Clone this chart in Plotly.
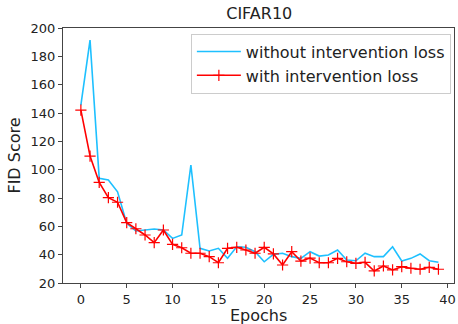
import plotly.graph_objects as go

epochs = list(range(40))
without_loss = [145.6, 191.5, 93.9, 92.7, 84.4, 62.1, 56.7, 57.4, 58.1, 57.4,
                51.5, 53.9, 103.3, 44.5, 42.6, 44.5, 37.4, 45.6, 45.2, 42.1,
                35.0, 40.2, 41.0, 38.6, 37.4, 42.1, 39.0, 39.8, 43.3, 36.2,
                35.7, 41.0, 38.6, 38.6, 45.6, 35.5, 37.4, 40.5, 35.7, 34.6]
with_loss = [142.0, 109.6, 91.0, 80.2, 77.0, 62.6, 58.3, 53.9, 48.5, 57.4,
             47.3, 44.9, 41.0, 41.0, 38.6, 34.3, 44.5, 45.2, 43.3, 41.0,
             45.2, 40.5, 32.7, 42.1, 35.5, 37.6, 34.3, 34.3, 37.4, 35.0,
             33.9, 34.6, 28.5, 32.0, 29.2, 31.5, 30.4, 29.7, 31.1, 29.7]
x_ticks = list(range(0, 41, 5))
y_ticks = list(range(20, 201, 20))

font = "DejaVu Sans"
fig = go.Figure()
fig.add_trace(go.Scatter(x=epochs, y=without_loss, mode="lines",
                         name="without intervention loss",
                         line=dict(color="#1ec0ff", width=1.6)))
fig.add_trace(go.Scatter(x=epochs, y=with_loss, mode="lines+markers",
                         name="with intervention loss",
                         line=dict(color="#ff0000", width=1.6),
                         marker=dict(symbol="cross-thin", size=8,
                                     line=dict(color="#ff0000", width=1.2))))

axis_common = dict(showgrid=False, zeroline=False, showline=True, mirror=True,
                   linecolor="#444", linewidth=1, ticks="outside", ticklen=4,
                   tickcolor="#444", automargin=False,
                   tickfont=dict(family=font, size=13, color="#222"))
fig.update_layout(
    width=458, height=324,
    margin=dict(l=63, r=4, t=27.5, b=41),
    paper_bgcolor="white", plot_bgcolor="white",
    title=dict(text="CIFAR10", x=0.566, xanchor="center", y=0.958, yanchor="middle",
               font=dict(family=font, size=16, color="#222")),
    xaxis=dict(range=[-1.95, 40.7], tickvals=x_ticks, **axis_common),
    yaxis=dict(range=[20, 200], tickvals=y_ticks,
               title=dict(text="FID Score", standoff=5, font=dict(family=font, size=16, color="#222")),
               **axis_common),
    legend=dict(x=0.992, y=0.978, xanchor="right", yanchor="top",
                bgcolor="rgba(255,255,255,0.8)", bordercolor="#cccccc", borderwidth=1,
                font=dict(family=font, size=16, color="#222"), itemwidth=44,
                tracegroupgap=2),
    showlegend=True,
    annotations=[dict(text="Epochs", xref="paper", yref="paper", x=0.5, y=-0.128,
                      xanchor="center", yanchor="middle", showarrow=False,
                      font=dict(family=font, size=16, color="#222"))],
)
fig.write_html("out.html", config={"displayModeBar": False},
               post_script="document.body.style.margin='0';document.body.style.padding='0';")
